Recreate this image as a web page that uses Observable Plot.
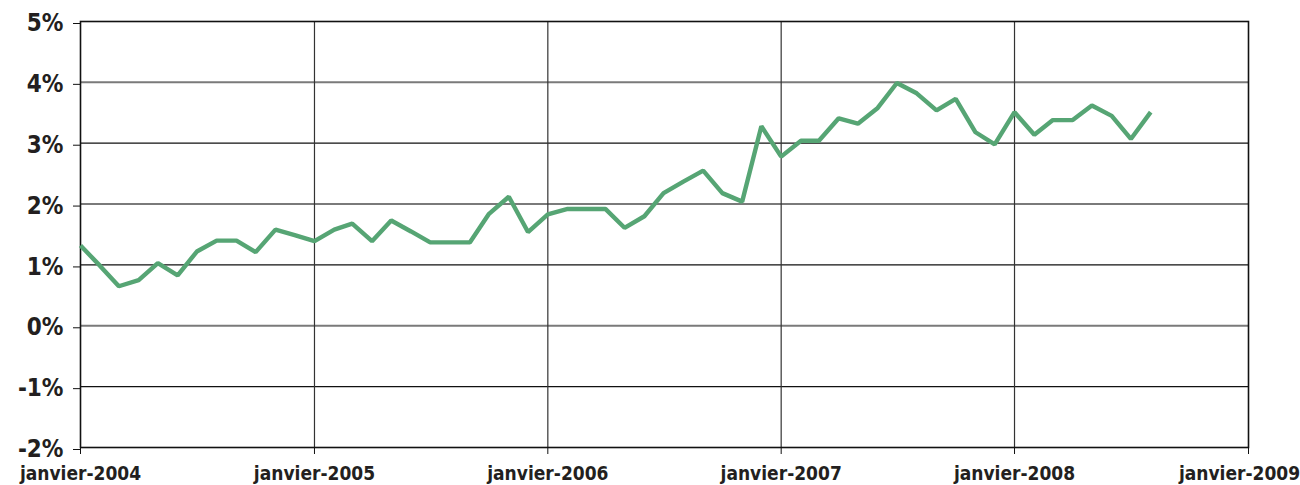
<!DOCTYPE html>
<html>
<head>
<meta charset="utf-8">
<script src="https://cdn.jsdelivr.net/npm/d3@7"></script>
<script src="https://cdn.jsdelivr.net/npm/@observablehq/plot@0.6"></script>
<style>
  html, body { margin: 0; padding: 0; background: #fff; }
  #chart svg { display: block; }
</style>
</head>
<body>
<div id="chart"></div>
<script>
const months = [
  "2004-01","2004-02","2004-03","2004-04","2004-05","2004-06","2004-07","2004-08","2004-09","2004-10","2004-11","2004-12",
  "2005-01","2005-02","2005-03","2005-04","2005-05","2005-06","2005-07","2005-08","2005-09","2005-10","2005-11","2005-12",
  "2006-01","2006-02","2006-03","2006-04","2006-05","2006-06","2006-07","2006-08","2006-09","2006-10","2006-11","2006-12",
  "2007-01","2007-02","2007-03","2007-04","2007-05","2007-06","2007-07","2007-08","2007-09","2007-10","2007-11","2007-12",
  "2008-01","2008-02","2008-03","2008-04","2008-05","2008-06","2008-07","2008-08"
];
const values = [
  1.32, 0.98, 0.65, 0.75, 1.03, 0.83, 1.22, 1.40, 1.40, 1.21, 1.58, 1.49,
  1.39, 1.58, 1.68, 1.39, 1.73, 1.55, 1.37, 1.37, 1.37, 1.84, 2.12, 1.54,
  1.83, 1.92, 1.92, 1.92, 1.61, 1.80, 2.18, 2.37, 2.55, 2.18, 2.04, 3.28,
  2.78, 3.04, 3.04, 3.41, 3.32, 3.58, 3.99, 3.82, 3.54, 3.73, 3.18, 2.98,
  3.51, 3.14, 3.38, 3.38, 3.62, 3.45, 3.07, 3.51
];
const yTicks = [-2, -1, 0, 1, 2, 3, 4, 5];
const xTickDates = ["2004-01-01","2005-01-01","2006-01-01","2007-01-01","2008-01-01","2009-01-01"];
const xTickLabels = ["janvier-2004","janvier-2005","janvier-2006","janvier-2007","janvier-2008","janvier-2009"];

const parse = d3.utcParse("%Y-%m");
const data = months.map((m, i) => ({date: parse(m), value: values[i]}));
const xTicks = xTickDates.map(d => new Date(d + "T00:00:00Z"));
const labelOf = new Map(xTicks.map((d, i) => [+d, xTickLabels[i]]));

const chart = Plot.plot({
  width: 1300,
  height: 485,
  marginTop: 21,
  marginRight: 52,
  marginBottom: 38,
  marginLeft: 80,
  style: {
    fontFamily: "'DejaVu Sans Condensed', 'DejaVu Sans', sans-serif",
    fontWeight: "bold",
    fontSize: "19px",
    color: "#231f20",
    background: "#fff"
  },
  x: {type: "utc", domain: [xTicks[0], xTicks[xTicks.length - 1]]},
  y: {domain: [-2, 5]},
  marks: [
    Plot.ruleY(yTicks.filter(v => v > -2 && v < 5 && v % 2 === 0), {stroke: "#7a7a7a", strokeWidth: 2}),
    Plot.ruleY(yTicks.filter(v => v > -2 && v < 5 && v % 2 !== 0), {stroke: "#111", strokeWidth: 1.2}),
    Plot.ruleX(xTicks.slice(1, -1), {stroke: "#333", strokeWidth: 1.2}),
    Plot.frame({stroke: "#111", strokeWidth: 1.6}),
    Plot.axisY({ticks: yTicks, tickSize: 7, tickPadding: 10, fontSize: 24, dy: 2, tickFormat: d => `${d}%`, label: null, stroke: "#111"}),
    Plot.axisX({ticks: xTicks, tickSize: 7, tickPadding: 12, fontSize: 19, tickFormat: d => labelOf.get(+d), label: null, stroke: "#111"}),
    Plot.line(data, {x: "date", y: "value", stroke: "#56a574", strokeWidth: 4.4, strokeLinejoin: "miter", strokeLinecap: "butt"})
  ]
});
document.getElementById("chart").appendChild(chart);
// keep the last x label inside the window, as in the reference
const xl = chart.querySelectorAll('[aria-label="x-axis tick label"] text');
if (xl.length) xl[xl.length - 1].setAttribute("dx", "-9");
</script>
</body>
</html>
